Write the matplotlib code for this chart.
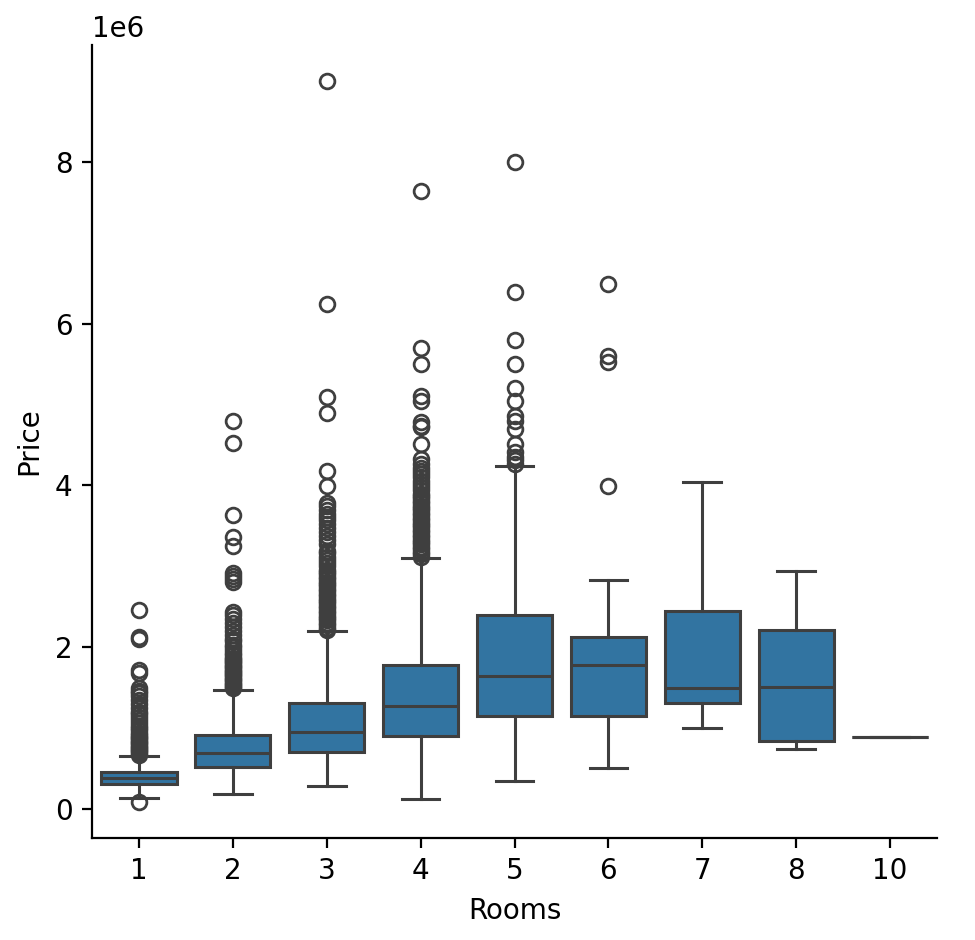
import numpy as np
import matplotlib
matplotlib.use("Agg")
import matplotlib.pyplot as plt

# Price per number of rooms, values in millions
rooms = ["1", "2", "3", "4", "5", "6", "7", "8", "10"]
q1 = [0.309, 0.516, 0.709, 0.907, 1.146, 1.154, 1.307, 0.845, 0.887]
med = [0.383, 0.689, 0.952, 1.278, 1.649, 1.785, 1.492, 1.505, 0.887]
q3 = [0.454, 0.919, 1.311, 1.780, 2.403, 2.123, 2.444, 2.213, 0.887]
whislo = [0.132, 0.182, 0.281, 0.120, 0.342, 0.507, 1.000, 0.738, 0.887]
whishi = [0.652, 1.471, 2.197, 3.104, 4.240, 2.832, 4.040, 2.939, 0.887]

fliers_1 = [0.085, 0.67, 0.69, 0.71, 0.73, 0.75, 0.77, 0.79, 0.81, 0.83, 0.85,
            0.87, 0.89, 0.91, 0.94, 0.97, 1.0, 1.03, 1.06, 1.1, 1.13, 1.17,
            1.2, 1.25, 1.3, 1.35, 1.4, 1.43, 1.46, 1.5, 1.68, 1.72, 2.1, 2.12,
            2.46]
fliers_2 = [1.49, 1.51, 1.53, 1.55, 1.57, 1.59, 1.61, 1.63, 1.65, 1.67, 1.69,
            1.71, 1.73, 1.75, 1.77, 1.79, 1.81, 1.83, 1.85, 1.87, 1.9, 1.93,
            1.96, 2.0, 2.03, 2.07, 2.1, 2.15, 2.2, 2.25, 2.3, 2.35, 2.4, 2.43,
            2.8, 2.84, 2.88, 2.92, 3.25, 3.36, 3.63, 4.52, 4.8]
fliers_3 = [2.21, 2.24, 2.27, 2.3, 2.33, 2.36, 2.39, 2.42, 2.45, 2.48, 2.51,
            2.54, 2.57, 2.6, 2.63, 2.66, 2.69, 2.72, 2.75, 2.78, 2.81, 2.84,
            2.87, 2.9, 2.93, 2.96, 3.0, 3.04, 3.08, 3.12, 3.16, 3.19, 3.27,
            3.32, 3.37, 3.42, 3.47, 3.52, 3.57, 3.61, 3.65, 3.7, 3.74, 3.78,
            3.99, 4.18, 4.9, 5.09, 6.24, 9.0]
fliers_4 = [3.12, 3.15, 3.18, 3.21, 3.24, 3.27, 3.3, 3.33, 3.36, 3.39, 3.42,
            3.45, 3.48, 3.51, 3.54, 3.57, 3.6, 3.63, 3.66, 3.69, 3.72, 3.75,
            3.78, 3.81, 3.84, 3.87, 3.9, 3.94, 3.98, 4.02, 4.06, 4.1, 4.14,
            4.18, 4.22, 4.26, 4.33, 4.51, 4.72, 4.74, 4.78, 5.05, 5.11, 5.5,
            5.7, 7.645]
fliers_5 = [4.27, 4.31, 4.35, 4.41, 4.51, 4.7, 4.8, 4.86, 5.05, 5.2, 5.5, 5.8,
            6.39, 8.0]
fliers_6 = [3.99, 5.53, 5.6, 6.49]
fliers_7 = []
fliers_8 = []
fliers_10 = []
fliers = [fliers_1, fliers_2, fliers_3, fliers_4, fliers_5, fliers_6,
          fliers_7, fliers_8, fliers_10]

stats = []
for i in range(len(rooms)):
    stats.append({
        "q1": q1[i] * 1e6, "med": med[i] * 1e6, "q3": q3[i] * 1e6,
        "whislo": whislo[i] * 1e6, "whishi": whishi[i] * 1e6,
        "fliers": np.array(fliers[i]) * 1e6,
    })

box_color = "#3274a1"
line_color = "#3f3f3f"
lw = 1.1

fig = plt.figure(figsize=(4.875, 4.7), dpi=200)
ax = fig.add_axes([0.0944, 0.1085, 0.8666, 0.8435])

ax.bxp(stats, positions=range(len(rooms)), widths=0.8, patch_artist=True,
       showfliers=True, manage_ticks=False,
       boxprops=dict(facecolor=box_color, edgecolor=line_color, linewidth=lw),
       medianprops=dict(color=line_color, linewidth=lw),
       whiskerprops=dict(color=line_color, linewidth=lw),
       capprops=dict(color=line_color, linewidth=lw),
       capwidths=0.4,
       flierprops=dict(marker="o", markerfacecolor="none",
                       markeredgecolor=line_color, markersize=5.3,
                       markeredgewidth=1.0, linestyle="none"))

ax.set_xticks(range(len(rooms)))
ax.set_xticklabels(rooms)
ax.set_xlim(-0.5, len(rooms) - 0.5)
ax.set_xlabel("Rooms")
ax.set_ylabel("Price")
ax.spines["top"].set_visible(False)
ax.spines["right"].set_visible(False)

fig.savefig("out.png", dpi=200)
